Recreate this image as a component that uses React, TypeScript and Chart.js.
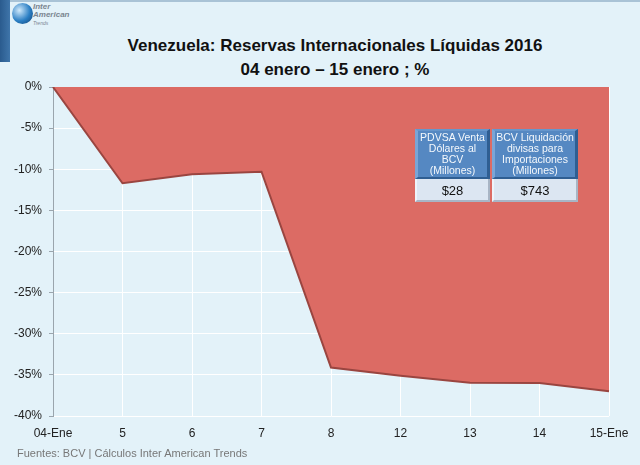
import React, { useEffect, useRef } from "react";
import { Chart, registerables } from "chart.js";

Chart.register(...registerables);

const categories = ["04-Ene", "5", "6", "7", "8", "12", "13", "14", "15-Ene"];
const reservasPct = [0, -11.7, -10.6, -10.3, -34.1, -35.1, -35.95, -36.0, -37.0];
const topEdge = [0, 0, 0, 0, 0, 0, 0, 0, 0];
const yTicks = [0, -5, -10, -15, -20, -25, -30, -35, -40];
const titleLines = ["Venezuela: Reservas Internacionales Líquidas 2016", "04 enero – 15 enero ; %"];
const tableHeaders = [
  ["PDVSA Venta", "Dólares al", "BCV", "(Millones)"],
  ["BCV Liquidación", "divisas para", "Importaciones", "(Millones)"],
];
const tableValues = ["$28", "$743"];
const footer = "Fuentes: BCV | Cálculos Inter American Trends";

const FONT = "'Liberation Sans', Arial, sans-serif";

export default function App() {
  const ref = useRef<HTMLCanvasElement | null>(null);

  useEffect(() => {
    document.body.style.margin = "0";
    const canvas = ref.current;
    if (!canvas) return;
    const chart = new Chart(canvas, {
      type: "line",
      data: {
        labels: categories,
        datasets: [
          {
            data: reservasPct,
            fill: "origin",
            backgroundColor: "#dc6b64",
            borderColor: "#9a4540",
            borderWidth: 2,
            pointRadius: 0,
            tension: 0,
          },
          {
            data: topEdge,
            fill: false,
            borderColor: "#ea928b",
            borderWidth: 2,
            pointRadius: 0,
          },
        ],
      },
      options: {
        animation: false,
        responsive: false,
        maintainAspectRatio: false,
        layout: { padding: { top: 87, right: 31, left: 0, bottom: 0 } },
        plugins: { legend: { display: false }, tooltip: { enabled: false }, title: { display: false } },
        scales: {
          x: {
            offset: false,
            grid: { color: "#ffffff", lineWidth: 1, drawTicks: false },
            border: { display: false },
            ticks: { color: "#222", font: { family: FONT, size: 12 }, padding: 10, maxRotation: 0, autoSkip: false },
            afterFit: (s: any) => {
              s.height = 49;
            },
          },
          y: {
            min: -40,
            max: 0,
            afterBuildTicks: (s: any) => {
              s.ticks = yTicks.map((v) => ({ value: v }));
            },
            grid: { color: "#ffffff", lineWidth: 1, tickLength: 4, tickColor: "#9aa5ad" },
            border: { display: true, color: "#9aa5ad", width: 1 },
            ticks: {
              color: "#222",
              font: { family: FONT, size: 12 },
              padding: 7,
              callback: (v: any) => `${v}%`,
            },
            afterFit: (s: any) => {
              s.width = 53;
            },
          },
        },
      },
    });
    return () => chart.destroy();
  }, []);

  return (
    <div
      style={{
        position: "fixed",
        left: 0,
        top: 0,
        width: 640,
        height: 465,
        background: "#e3f2f9",
        overflow: "hidden",
        fontFamily: FONT,
      }}
    >
      <div style={{ position: "absolute", left: 0, top: 0, width: 640, height: 2, background: "#a9c3d6" }} />
      <div
        style={{
          position: "absolute",
          left: 0,
          top: 0,
          width: 10,
          height: 62,
          background: "linear-gradient(90deg,#2a5b8e,#3f75aa)",
        }}
      />
      <div
        style={{
          position: "absolute",
          left: 12,
          top: 3,
          width: 21,
          height: 21,
          borderRadius: "50%",
          background: "radial-gradient(circle at 35% 35%, #cfe9fb, #2b7fc4 55%, #0d3d6e)",
        }}
      />
      <div style={{ position: "absolute", left: 33, top: 3, fontSize: 8, fontStyle: "italic", fontWeight: "bold", color: "#7a8590", lineHeight: "8px" }}>
        Inter
        <br />
        American
        <br />
        <span style={{ fontSize: 5, fontWeight: "normal" }}>Trends</span>
      </div>
      <div
        style={{
          position: "absolute",
          left: 0,
          top: 34,
          width: 670,
          textAlign: "center",
          fontWeight: "bold",
          fontSize: 17,
          lineHeight: "24px",
          color: "#111",
        }}
      >
        {titleLines.map((t, i) => (
          <div key={i}>{t}</div>
        ))}
      </div>
      <canvas ref={ref} width={640} height={465} style={{ position: "absolute", left: 0, top: 0, width: 640, height: 465 }} />
      <div style={{ position: "absolute", left: 415, top: 129, width: 163, height: 73, display: "flex", gap: 2 }}>
        {tableHeaders.map((lines, i) => (
          <div key={i} style={{ width: i === 0 ? 75 : 86, display: "flex", flexDirection: "column" }}>
            <div
              style={{
                height: 50,
                boxSizing: "border-box",
                background: "#5588c2",
                borderLeft: "3px solid #7aa5d6",
                borderTop: "2px solid #6696cc",
                borderRight: "3px solid #2f5e92",
                borderBottom: "2px solid #2f5e92",
                color: "#f4f8fc",
                fontSize: 10.5,
                lineHeight: "11px",
                textAlign: "center",
                display: "flex",
                flexDirection: "column",
                justifyContent: "center",
                whiteSpace: "nowrap",
              }}
            >
              {lines.map((l, j) => (
                <div key={j}>{l}</div>
              ))}
            </div>
            <div
              style={{
                height: 23,
                boxSizing: "border-box",
                background: "#dce6f2",
                borderLeft: "2px solid #eef3fa",
                borderRight: "2px solid #a8b5c5",
                borderBottom: "2px solid #a8b5c5",
                color: "#111",
                fontSize: 13,
                textAlign: "center",
                lineHeight: "23px",
              }}
            >
              {tableValues[i]}
            </div>
          </div>
        ))}
      </div>
      <div style={{ position: "absolute", left: 17, top: 447, fontSize: 11, color: "#777" }}>{footer}</div>
    </div>
  );
}
